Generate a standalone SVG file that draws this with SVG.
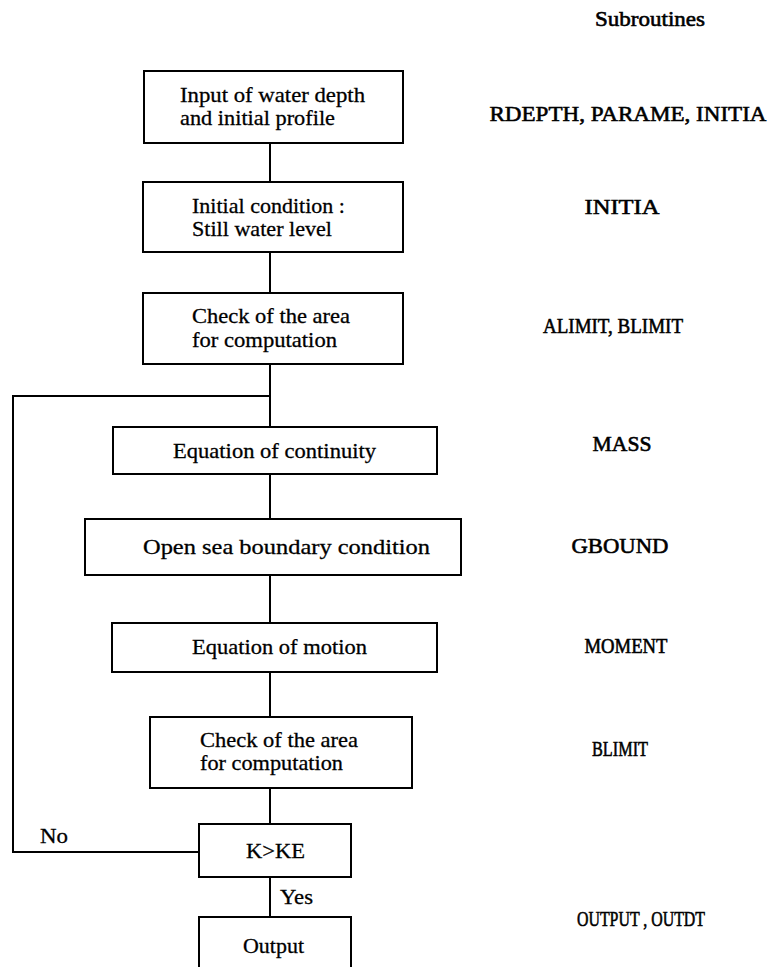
<svg xmlns="http://www.w3.org/2000/svg" width="770" height="967" viewBox="0 0 770 967">
<style>
.box{fill:#fff;stroke:#000;stroke-width:2}
.ln{fill:none;stroke:#000;stroke-width:2}
text{font-family:"Liberation Serif","Times New Roman",serif;font-size:22px;fill:#000;stroke:#000;stroke-width:0.3}
.sub{text-anchor:middle;stroke-width:0.6}
</style>
<rect width="770" height="967" fill="#fff"/>
<g id="connectors">
<path class="ln" d="M270 143V182M270 252V293M270 364V427M270 474V519M270 575V623M270 672V717M270 788V824M270 877V917"/>
<path class="ln" d="M199 852H13V396H270"/>
<text x="40" y="843" textLength="28" lengthAdjust="spacingAndGlyphs">No</text>
<text x="280" y="904" textLength="33" lengthAdjust="spacingAndGlyphs">Yes</text>
</g>
<g id="n1"><rect class="box" x="144" y="71" width="259" height="72"/>
<text x="180" y="102" textLength="185" lengthAdjust="spacingAndGlyphs">Input of water depth</text>
<text x="180" y="125" textLength="155" lengthAdjust="spacingAndGlyphs">and initial profile</text></g>
<g id="n2"><rect class="box" x="143" y="182" width="260" height="70"/>
<text x="192" y="213" textLength="153" lengthAdjust="spacingAndGlyphs">Initial condition :</text>
<text x="192" y="236" textLength="140" lengthAdjust="spacingAndGlyphs">Still water level</text></g>
<g id="n3"><rect class="box" x="143" y="293" width="260" height="71"/>
<text x="192" y="323" textLength="158" lengthAdjust="spacingAndGlyphs">Check of the area</text>
<text x="192" y="347" textLength="145" lengthAdjust="spacingAndGlyphs">for computation</text></g>
<g id="n4"><rect class="box" x="113" y="427" width="324" height="47"/>
<text x="173" y="458" textLength="203" lengthAdjust="spacingAndGlyphs">Equation of continuity</text></g>
<g id="n5"><rect class="box" x="85" y="519" width="376" height="56"/>
<text x="143" y="554" textLength="287" lengthAdjust="spacingAndGlyphs">Open sea boundary condition</text></g>
<g id="n6"><rect class="box" x="112" y="623" width="325" height="49"/>
<text x="192" y="654" textLength="175" lengthAdjust="spacingAndGlyphs">Equation of motion</text></g>
<g id="n7"><rect class="box" x="150" y="717" width="262" height="71"/>
<text x="200" y="747" textLength="158" lengthAdjust="spacingAndGlyphs">Check of the area</text>
<text x="200" y="770" textLength="143" lengthAdjust="spacingAndGlyphs">for computation</text></g>
<g id="n8"><rect class="box" x="199" y="824" width="152" height="53"/>
<text x="246" y="858" textLength="59" lengthAdjust="spacingAndGlyphs">K&gt;KE</text></g>
<g id="n9"><rect class="box" x="199" y="917" width="152" height="60"/>
<text x="243" y="953" textLength="61" lengthAdjust="spacingAndGlyphs">Output</text></g>
<g id="subroutines">
<text class="sub" x="650" y="26" textLength="110" lengthAdjust="spacingAndGlyphs">Subroutines</text>
<text class="sub" x="628" y="121" textLength="277" lengthAdjust="spacingAndGlyphs">RDEPTH, PARAME, INITIA</text>
<text class="sub" x="622" y="214" textLength="75" lengthAdjust="spacingAndGlyphs">INITIA</text>
<text class="sub" x="613" y="333" textLength="140" lengthAdjust="spacingAndGlyphs">ALIMIT, BLIMIT</text>
<text class="sub" x="622" y="451" textLength="59" lengthAdjust="spacingAndGlyphs">MASS</text>
<text class="sub" x="620" y="553" textLength="97" lengthAdjust="spacingAndGlyphs">GBOUND</text>
<text class="sub" x="626" y="653" textLength="83" lengthAdjust="spacingAndGlyphs">MOMENT</text>
<text class="sub" x="620" y="756" textLength="56" lengthAdjust="spacingAndGlyphs">BLIMIT</text>
<text class="sub" x="641" y="926" textLength="128" lengthAdjust="spacingAndGlyphs">OUTPUT , OUTDT</text>
</g>
</svg>
